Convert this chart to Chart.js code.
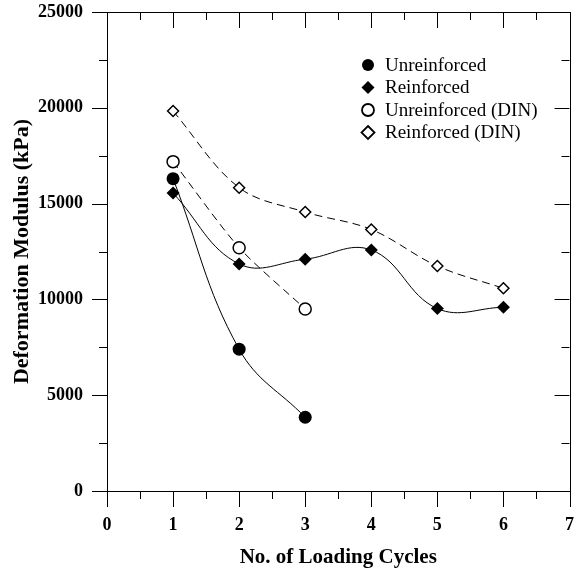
<!DOCTYPE html>
<html>
<head>
<meta charset="utf-8">
<script src="https://cdn.jsdelivr.net/npm/chart.js@4.4.0/dist/chart.umd.min.js"></script>
<style>
  html, body { margin: 0; padding: 0; background: #fff; }
  #wrap { width: 577px; height: 572px; }
</style>
</head>
<body>
<div id="wrap"><canvas id="myChart"></canvas></div>
<script>
// loading cycles (x) and deformation modulus values (kPa)
const cycles = [1, 2, 3, 4, 5, 6];
const unreinforced = [16300, 7400, 3850];
const reinforced = [15550, 11850, 12100, 12580, 9520, 9590];
const unreinforcedDIN = [17190, 12700, 9500];
const reinforcedDIN = [19830, 15830, 14560, 13650, 11740, 10580];

const xTicks = [0, 1, 2, 3, 4, 5, 6, 7];
const yTicks = [0, 5000, 10000, 15000, 20000, 25000];

const serif = "'Liberation Serif', 'Times New Roman', serif";

function pts(vals) {
  return vals.map((v, i) => ({ x: cycles[i], y: v }));
}

const data = {
  datasets: [{
    label: 'Unreinforced',
    data: pts(unreinforced),
    borderColor: '#000',
    borderWidth: 1,
    backgroundColor: '#000',
    pointStyle: 'circle',
    pointRadius: 6.5,
    pointBorderWidth: 0,
    tension: 0.4
  }, {
    label: 'Reinforced',
    data: pts(reinforced),
    borderColor: '#000',
    borderWidth: 1,
    backgroundColor: '#000',
    pointStyle: 'rectRot',
    pointRadius: 6.5,
    pointBorderWidth: 0,
    tension: 0.4
  }, {
    label: 'Unreinforced (DIN)',
    data: pts(unreinforcedDIN),
    borderColor: '#000',
    borderWidth: 1,
    borderDash: [8, 5],
    backgroundColor: '#fff',
    pointStyle: 'circle',
    pointRadius: 6,
    pointBorderWidth: 1.5,
    tension: 0.25
  }, {
    label: 'Reinforced (DIN)',
    data: pts(reinforcedDIN),
    borderColor: '#000',
    borderWidth: 1,
    borderDash: [8, 5],
    backgroundColor: '#fff',
    pointStyle: 'rectRot',
    pointRadius: 5.5,
    pointBorderWidth: 1.5,
    tension: 0.35
  }]
};

// tick marks on all four sides (outward bottom/left, inward top/right) + frame
const frameTicks = {
  id: 'frameTicks',
  beforeDatasetsDraw(chart) {
    const { ctx, chartArea: a, scales: { x, y } } = chart;
    ctx.save();
    ctx.strokeStyle = '#000';
    ctx.lineWidth = 1;
    ctx.beginPath();
    for (let v = xTicks[0]; v <= xTicks[xTicks.length - 1]; v += 0.5) {
      const px = Math.round(x.getPixelForValue(v)) + 0.5;
      const len = v % 1 === 0 ? 16 : 8;
      ctx.moveTo(px, a.bottom); ctx.lineTo(px, a.bottom + len);
      ctx.moveTo(px, a.top); ctx.lineTo(px, a.top + len);
    }
    for (let v = yTicks[0]; v <= yTicks[yTicks.length - 1]; v += 2500) {
      const py = Math.round(y.getPixelForValue(v)) + 0.5;
      const len = v % 5000 === 0 ? 15 : 8;
      ctx.moveTo(a.left - len, py); ctx.lineTo(a.left, py);
      ctx.moveTo(a.right - len, py); ctx.lineTo(a.right, py);
    }
    ctx.stroke();
    ctx.strokeRect(Math.round(a.left) + 0.5, Math.round(a.top) + 0.5,
      Math.round(a.right - a.left), Math.round(a.bottom - a.top));
    ctx.restore();
  }
};

// legend inside the plot, upper right
const innerLegend = {
  id: 'innerLegend',
  afterDraw(chart) {
    const { ctx } = chart;
    const mx = 368, tx = 385, top = 65, gap = 22.5;
    ctx.save();
    ctx.font = '19px ' + serif;
    ctx.textBaseline = 'middle';
    ctx.fillStyle = '#000';
    chart.data.datasets.forEach((ds, i) => {
      const cy = top + i * gap;
      const r = ds.pointStyle === 'circle' ? 6 : 6.5;
      ctx.beginPath();
      if (ds.pointStyle === 'circle') {
        ctx.arc(mx, cy, r, 0, Math.PI * 2);
      } else {
        ctx.moveTo(mx, cy - r); ctx.lineTo(mx + r, cy);
        ctx.lineTo(mx, cy + r); ctx.lineTo(mx - r, cy);
        ctx.closePath();
      }
      if (ds.backgroundColor === '#000') {
        ctx.fillStyle = '#000';
        ctx.fill();
      } else {
        ctx.fillStyle = '#fff';
        ctx.fill();
        ctx.lineWidth = 1.8;
        ctx.strokeStyle = '#000';
        ctx.stroke();
      }
      ctx.fillStyle = '#000';
      ctx.fillText(ds.label, tx, cy + 1);
    });
    ctx.restore();
  }
};

const config = {
  type: 'line',
  data: data,
  options: {
    responsive: true,
    maintainAspectRatio: false,
    animation: false,
    devicePixelRatio: 1,
    layout: { padding: { top: 12, right: 7, left: 0, bottom: 0 } },
    plugins: {
      legend: { display: false },
      tooltip: { enabled: false }
    },
    scales: {
      x: {
        type: 'linear',
        min: xTicks[0],
        max: xTicks[xTicks.length - 1],
        afterBuildTicks: (s) => { s.ticks = xTicks.map(v => ({ value: v })); },
        afterFit: (s) => { s.height = 81; s.paddingLeft = 0; s.paddingRight = 0; },
        grid: { display: false, drawTicks: false },
        border: { display: true, color: '#000', width: 1 },
        ticks: {
          color: '#000',
          padding: 24,
          maxRotation: 0,
          font: { family: serif, size: 18, weight: 'bold' }
        },
        title: {
          display: true,
          text: 'No. of Loading Cycles',
          color: '#000',
          padding: { top: 0, bottom: 2 },
          font: { family: serif, size: 21, weight: 'bold' }
        }
      },
      y: {
        min: yTicks[0],
        max: yTicks[yTicks.length - 1],
        afterBuildTicks: (s) => { s.ticks = yTicks.map(v => ({ value: v })); },
        afterFit: (s) => { s.width = 107; s.paddingTop = 0; s.paddingBottom = 0; },
        grid: { display: false, drawTicks: false },
        border: { display: true, color: '#000', width: 1 },
        ticks: {
          color: '#000',
          padding: 24,
          font: { family: serif, size: 18, weight: 'bold' },
          callback: (v) => String(v)
        },
        title: {
          display: true,
          text: 'Deformation Modulus (kPa)',
          color: '#000',
          padding: { top: 9, bottom: 0 },
          font: { family: serif, size: 22, weight: 'bold' }
        }
      }
    }
  },
  plugins: [frameTicks, innerLegend]
};

const myChart = new Chart(document.getElementById('myChart'), config);
</script>
</body>
</html>
